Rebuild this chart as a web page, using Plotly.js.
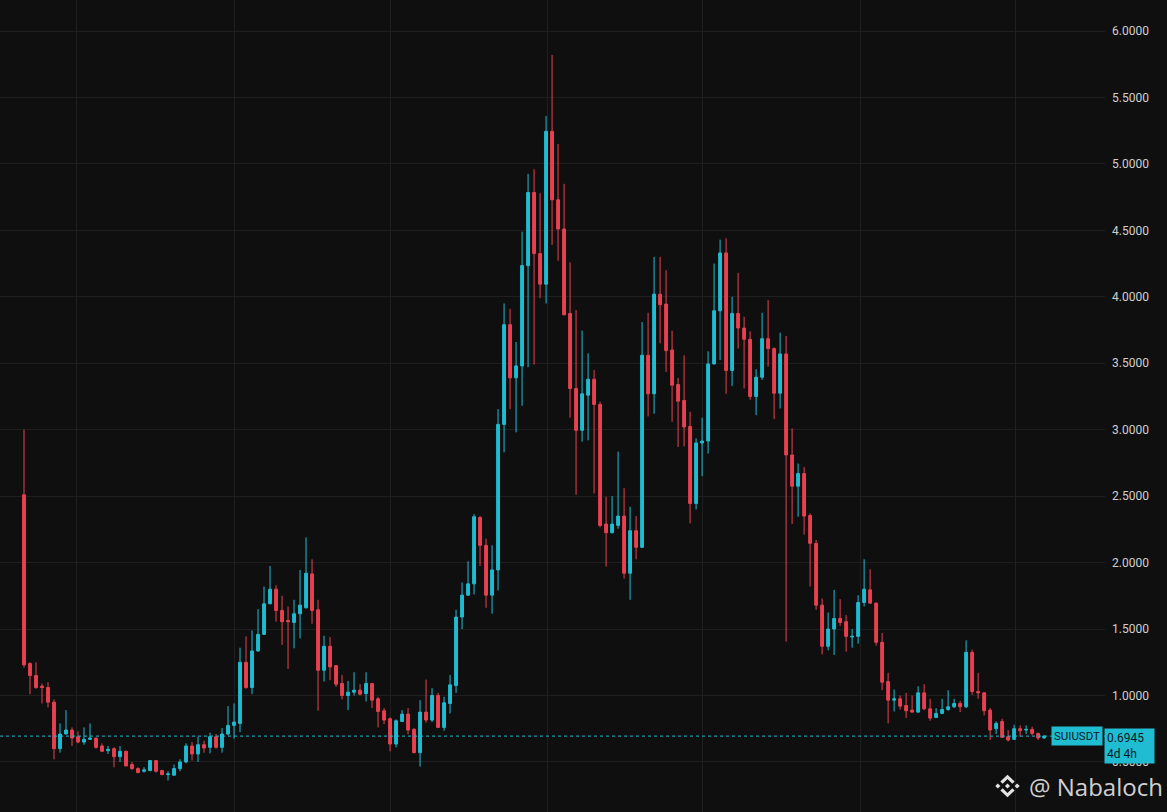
<!DOCTYPE html>
<html>
<head>
<meta charset="utf-8">
<script src="https://cdn.plot.ly/plotly-3.0.1.min.js"></script>
<style>
  html, body { margin: 0; padding: 0; background: #0f0f0f; }
  #chart { width: 1167px; height: 812px; }
</style>
</head>
<body>
<div id="chart"></div>
<script>
// SUIUSDT weekly candles
const symbol = 'SUIUSDT'
const countdown = '4d 4h'
const author = '@ Nabaloch'
const firstWeek = '2023-05-01'

const opens = [
  2.51, 1.24, 1.15, 1.07, 1.06, 0.95, 0.60, 0.71, 0.74, 0.69,
  0.65, 0.67, 0.68, 0.62, 0.585, 0.60, 0.54, 0.58, 0.48, 0.45,
  0.43, 0.435, 0.51, 0.435, 0.405, 0.40, 0.45, 0.50, 0.62, 0.56,
  0.63, 0.61, 0.69, 0.61, 0.71, 0.775, 0.79, 1.25, 1.06, 1.335,
  1.46, 1.69, 1.80, 1.64, 1.565, 1.55, 1.615, 1.66, 1.915, 1.645,
  1.19, 1.37, 1.225, 1.09, 1.00, 1.025, 1.04, 1.015, 1.09, 0.975,
  0.885, 0.825, 0.635, 0.805, 0.86, 0.745, 0.57, 0.875, 0.815, 1.00,
  0.76, 0.94, 1.075, 1.59, 1.755, 1.84, 2.34, 2.13, 1.755, 1.945,
  3.04, 3.79, 3.39, 3.48, 4.235, 4.785, 4.325, 4.095, 5.245, 4.73,
  4.51, 3.875, 3.31, 2.995, 3.26, 3.38, 3.19, 2.29, 2.225, 2.28,
  2.35, 1.92, 2.24, 2.115, 3.56, 3.27, 4.02, 3.945, 3.60, 3.34,
  3.22, 3.025, 2.445, 2.90, 2.915, 3.495, 3.895, 4.33, 3.445, 3.875,
  3.765, 3.68, 3.25, 3.395, 3.685, 3.61, 3.275, 3.57, 2.81, 2.575,
  2.67, 2.355, 2.145, 1.68, 1.37, 1.50, 1.58, 1.555, 1.44, 1.445,
  1.70, 1.795, 1.695, 1.40, 1.105, 0.965, 0.975, 0.925, 0.89, 0.875,
  1.02, 0.90, 0.835, 0.865, 0.895, 0.915, 0.94, 0.915, 1.325, 1.03,
  1.02, 0.89, 0.75, 0.805, 0.69, 0.67, 0.75, 0.74, 0.745, 0.715, 0.68
]
const highs = [
  3.00, 1.25, 1.25, 1.09, 1.10, 0.97, 0.79, 0.89, 0.76, 0.73,
  0.76, 0.79, 0.68, 0.64, 0.62, 0.61, 0.62, 0.585, 0.50, 0.46,
  0.46, 0.515, 0.515, 0.44, 0.43, 0.48, 0.52, 0.64, 0.65, 0.69,
  0.66, 0.72, 0.71, 0.755, 0.92, 0.94, 1.36, 1.445, 1.49, 1.65,
  1.82, 1.975, 1.83, 1.75, 1.67, 1.72, 1.945, 2.19, 2.025, 1.72,
  1.45, 1.44, 1.23, 1.155, 1.11, 1.175, 1.085, 1.175, 1.095, 0.99,
  0.905, 0.835, 0.82, 0.89, 0.905, 0.755, 0.965, 1.12, 1.055, 1.02,
  0.99, 1.155, 1.645, 1.85, 2.01, 2.365, 2.35, 2.18, 2.13, 3.155,
  3.95, 3.91, 3.66, 4.49, 4.925, 4.96, 4.78, 5.36, 5.82, 5.15,
  4.85, 4.26, 3.90, 3.745, 3.575, 3.45, 3.21, 2.495, 2.50, 2.835,
  2.56, 2.42, 2.35, 3.81, 3.88, 4.30, 4.30, 4.20, 3.745, 3.39,
  3.56, 3.135, 2.935, 3.09, 3.59, 4.25, 4.43, 4.44, 4.00, 4.18,
  3.85, 3.74, 3.455, 3.88, 3.975, 3.62, 3.73, 3.705, 3.01, 2.745,
  2.72, 2.37, 2.17, 1.73, 1.625, 1.795, 1.725, 1.605, 1.50, 1.755,
  2.025, 1.95, 1.70, 1.47, 1.17, 1.045, 1.00, 1.02, 1.00, 1.07,
  1.085, 0.975, 0.905, 0.975, 1.04, 0.975, 0.96, 1.415, 1.345, 1.17,
  1.025, 0.905, 0.805, 0.825, 0.74, 0.78, 0.775, 0.775, 0.765, 0.72, 0.70
]
const lows = [
  1.21, 1.01, 1.05, 0.94, 0.91, 0.52, 0.57, 0.71, 0.62, 0.64,
  0.63, 0.67, 0.60, 0.58, 0.56, 0.46, 0.50, 0.47, 0.44, 0.415,
  0.42, 0.43, 0.42, 0.40, 0.36, 0.40, 0.43, 0.49, 0.51, 0.50,
  0.57, 0.565, 0.60, 0.57, 0.70, 0.675, 0.725, 1.05, 1.01, 1.33,
  1.455, 1.69, 1.555, 1.38, 1.20, 1.355, 1.43, 1.655, 1.54, 0.885,
  1.105, 1.115, 1.065, 0.97, 0.89, 1.00, 1.00, 0.955, 0.905, 0.76,
  0.785, 0.58, 0.61, 0.80, 0.71, 0.565, 0.465, 0.795, 0.80, 0.755,
  0.735, 0.865, 1.02, 1.50, 1.75, 1.76, 1.975, 1.66, 1.615, 1.79,
  2.83, 3.155, 2.98, 3.18, 3.47, 3.49, 3.99, 3.95, 4.39, 4.27,
  3.86, 3.09, 2.51, 2.91, 2.92, 2.52, 2.265, 1.97, 2.22, 2.255,
  1.88, 1.72, 2.025, 2.11, 3.10, 3.12, 3.65, 3.435, 3.06, 2.87,
  2.875, 2.295, 2.40, 2.65, 2.82, 3.49, 3.525, 3.27, 3.33, 3.61,
  3.31, 3.225, 3.11, 3.375, 3.475, 3.08, 3.16, 1.405, 2.29, 2.345,
  2.21, 1.82, 1.645, 1.31, 1.34, 1.305, 1.525, 1.33, 1.36, 1.39,
  1.67, 1.69, 1.375, 1.04, 0.79, 0.88, 0.895, 0.83, 0.87, 0.87,
  0.89, 0.81, 0.83, 0.86, 0.885, 0.905, 0.875, 0.905, 1.005, 0.975,
  0.85, 0.665, 0.71, 0.68, 0.655, 0.665, 0.69, 0.71, 0.70, 0.665, 0.675
]
const closes = [
  1.23, 1.15, 1.06, 1.06, 0.95, 0.60, 0.71, 0.74, 0.68, 0.65,
  0.67, 0.68, 0.61, 0.58, 0.595, 0.54, 0.58, 0.47, 0.45, 0.42,
  0.44, 0.51, 0.43, 0.405, 0.41, 0.45, 0.50, 0.62, 0.56, 0.63,
  0.605, 0.69, 0.61, 0.71, 0.775, 0.80, 1.25, 1.06, 1.335, 1.46,
  1.69, 1.80, 1.64, 1.555, 1.555, 1.615, 1.68, 1.92, 1.64, 1.19,
  1.37, 1.215, 1.085, 1.00, 1.025, 1.04, 1.01, 1.09, 0.965, 0.88,
  0.815, 0.635, 0.81, 0.86, 0.74, 0.57, 0.875, 0.815, 1.00, 0.76,
  0.945, 1.08, 1.59, 1.755, 1.84, 2.345, 2.13, 1.755, 1.945, 3.04,
  3.79, 3.39, 3.48, 4.235, 4.785, 4.325, 4.095, 5.245, 4.73, 4.51,
  3.865, 3.31, 2.995, 3.27, 3.38, 3.19, 2.28, 2.225, 2.29, 2.35,
  1.92, 2.24, 2.115, 3.56, 3.27, 4.02, 3.94, 3.595, 3.335, 3.215,
  3.02, 2.445, 2.90, 2.915, 3.495, 3.895, 4.33, 3.445, 3.875, 3.765,
  3.68, 3.25, 3.395, 3.685, 3.61, 3.275, 3.57, 2.81, 2.575, 2.67,
  2.35, 2.145, 1.68, 1.37, 1.50, 1.58, 1.55, 1.445, 1.445, 1.70,
  1.80, 1.695, 1.40, 1.10, 0.965, 0.975, 0.92, 0.885, 0.875, 1.02,
  0.90, 0.83, 0.865, 0.895, 0.915, 0.94, 0.915, 1.325, 1.03, 1.02,
  0.885, 0.74, 0.79, 0.685, 0.665, 0.75, 0.735, 0.745, 0.715, 0.68, 0.6945
]
const priceTicks = [0.5, 1, 1.5, 2, 2.5, 3, 3.5, 4, 4.5, 5, 5.5, 6]
const gridDates = ['2023-07-01', '2024-01-01', '2024-07-01', '2025-01-01', '2025-07-01', '2026-01-01', '2026-07-01']

const upColor = '#1fbcd2'
const downColor = '#e84050'
const bg = '#0f0f0f'
const gridColor = '#1f1f1f'

// one candle per week
const DAY = 86400000
const t0 = Date.parse(firstWeek + 'T00:00:00Z')
const weeks = opens.map((_, i) => new Date(t0 + i * 7 * DAY).toISOString().slice(0, 10))

// 6px per weekly candle, first candle ~23px from the left edge
const plotW = 1105
const pxWeek = 6
const xStart = new Date(t0 - (23.3 / pxWeek) * 7 * DAY).toISOString().slice(0, 10)
const xEnd = new Date(t0 + ((plotW - 23.3) / pxWeek) * 7 * DAY).toISOString().slice(0, 10)

const last = closes[closes.length - 1]

const logoSvg = '<svg xmlns="http://www.w3.org/2000/svg" viewBox="0 0 126 126"><g fill="#e4e4e4">' +
  '<path d="M63 12 L94 43 L84 53 L63 32 L42 53 L32 43 Z"/>' +
  '<path d="M63 114 L94 83 L84 73 L63 94 L42 73 L32 83 Z"/>' +
  '<path d="M63 52 L74 63 L63 74 L52 63 Z"/>' +
  '<path d="M21 52 L32 63 L21 74 L10 63 Z"/>' +
  '<path d="M105 52 L116 63 L105 74 L94 63 Z"/></g></svg>'

const trace = {
  type: 'candlestick',
  x: weeks,
  open: opens,
  high: highs,
  low: lows,
  close: closes,
  increasing: { line: { color: upColor, width: 1 }, fillcolor: upColor },
  decreasing: { line: { color: downColor, width: 1 }, fillcolor: downColor },
  whiskerwidth: 0,
  hoverinfo: 'skip',
  showlegend: false
}

const layout = {
  width: 1167,
  height: 812,
  paper_bgcolor: bg,
  plot_bgcolor: bg,
  margin: { l: 0, r: 62, t: 0, b: 0, pad: 0 },
  boxgap: 0.32,
  showlegend: false,
  font: { family: 'Roboto, sans-serif', color: '#cfcfcf', size: 12 },
  xaxis: {
    type: 'date',
    range: [xStart, xEnd],
    rangeslider: { visible: false },
    tickmode: 'array',
    tickvals: gridDates,
    showticklabels: false,
    showgrid: true,
    gridcolor: gridColor,
    zeroline: false,
    showline: false,
    ticks: ''
  },
  yaxis: {
    side: 'right',
    range: [0.1234, 6.2333],
    tickmode: 'array',
    tickvals: priceTicks,
    tickformat: '.4f',
    showgrid: true,
    gridcolor: gridColor,
    zeroline: false,
    showline: false,
    ticks: '',
    ticklabelstandoff: 6,
    tickfont: { family: 'Roboto, sans-serif', size: 12, color: '#cfcfcf' }
  },
  shapes: [{
    type: 'line', xref: 'paper', x0: 0, x1: 1, yref: 'y', y0: last, y1: last,
    line: { color: upColor, width: 1, dash: 'dot' }
  }],
  annotations: [
    {
      xref: 'paper', x: 1, xanchor: 'right', xshift: -2,
      yref: 'y', y: last, yanchor: 'middle',
      text: symbol, showarrow: false,
      bgcolor: upColor, borderpad: 2,
      font: { family: 'Roboto, sans-serif', size: 11.5, color: '#0f1a24' }
    },
    {
      xref: 'paper', x: 1, xanchor: 'left', xshift: -1,
      yref: 'y', y: last, yanchor: 'top', yshift: 8,
      text: last.toFixed(4) + '<br>' + countdown, showarrow: false, align: 'left',
      bgcolor: upColor, borderpad: 2, width: 45,
      font: { family: 'Roboto, sans-serif', size: 12, color: '#0f1a24' }
    },
    {
      xref: 'paper', x: 1027 / plotW, xanchor: 'left',
      yref: 'paper', y: 1 - 786 / 812, yanchor: 'middle',
      text: author, showarrow: false,
      font: { family: 'Open Sans, sans-serif', size: 24, color: 'rgba(228,228,228,0.92)' }
    }
  ],
  images: [{
    source: 'data:image/svg+xml;charset=utf-8,' + encodeURIComponent(logoSvg),
    xref: 'paper', yref: 'paper',
    x: 993 / plotW, y: 1 - 772 / 812,
    sizex: 29 / plotW, sizey: 28 / 812,
    xanchor: 'left', yanchor: 'top', sizing: 'stretch', layer: 'above'
  }]
}

Plotly.newPlot('chart', [trace], layout, { displayModeBar: false, staticPlot: true })
</script>
</body>
</html>
